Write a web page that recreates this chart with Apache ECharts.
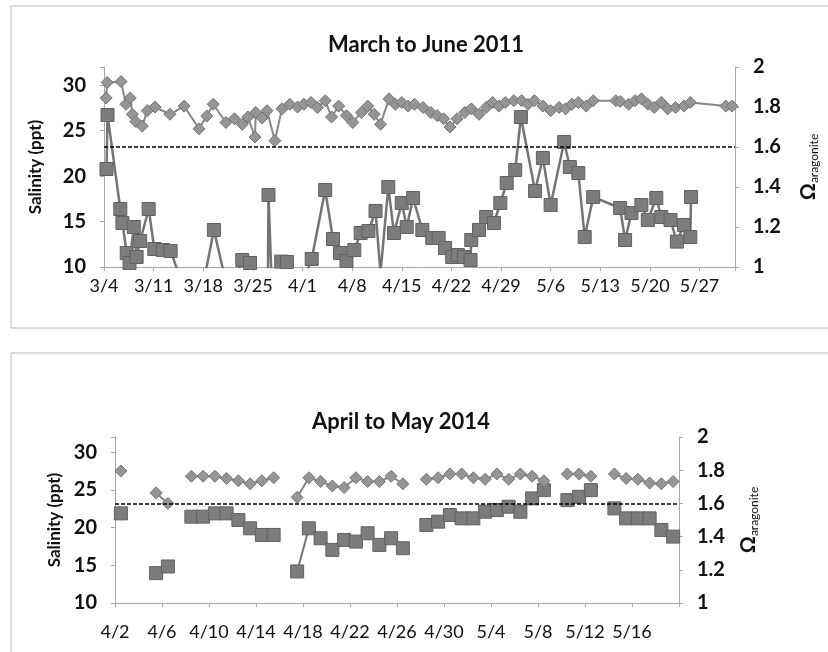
<!DOCTYPE html>
<html>
<head>
<meta charset="utf-8">
<script src="https://cdn.jsdelivr.net/npm/echarts@6/dist/echarts.min.js"></script>
<style>
html,body{margin:0;padding:0;background:#fff;}
#c{width:828px;height:652px;}
</style>
</head>
<body>
<div id="c"></div>
<script>
// ---------- 2011 panel (x = days after 3/4) ----------
const ticks2011 = ['3/4','3/11','3/18','3/25','4/1','4/8','4/15','4/22','4/29','5/6','5/13','5/20','5/27'];
const sal2011Days = [0.3,0.45,2.4,3.1,3.7,4.0,4.5,5.4,6.1,7.2,9.3,11.3,13.4,14.5,15.4,17.2,18.4,19.5,20.3,21.3,21.4,22.3,23.0,24.1,25.1,26.2,27.3,28.2,29.2,30.1,31.2,32.1,33.1,34.2,35.1,36.3,37.2,38.1,39.0,40.2,41.1,42.0,42.9,43.8,45.0,46.1,47.0,47.9,48.8,49.8,50.9,51.8,52.9,53.9,54.8,55.7,56.6,57.8,58.9,59.8,60.7,61.9,63.0,64.2,65.1,66.0,66.9,68.0,69.0,72.2,72.8,74.0,74.9,75.8,76.7,77.6,78.6,79.5,80.6,81.8,82.7,87.7,88.6];
const sal2011 = [28.6,30.3,30.4,27.9,28.6,26.8,26.0,25.5,27.2,27.6,26.8,27.7,25.2,26.6,27.9,25.9,26.3,25.7,26.5,24.3,27.0,26.4,27.2,23.9,27.4,27.9,27.6,27.9,28.1,27.55,28.3,26.5,27.7,26.65,25.9,27.0,27.7,26.8,25.7,28.5,27.9,28.1,27.7,27.9,27.55,27.0,26.65,26.3,25.4,26.3,27.0,27.4,26.8,27.55,28.1,27.7,28.1,28.3,28.3,27.9,28.3,27.7,27.2,27.55,27.4,27.9,28.1,27.7,28.3,28.3,28.2,27.9,28.3,28.5,27.9,27.55,28.1,27.4,27.55,27.7,28.1,27.7,27.7];
const omega2011Days = [0.35,0.5,2.3,2.6,3.2,3.6,4.2,4.6,5.1,6.3,7.1,8.3,9.4,10.6,11.8,13.0,14.2,15.5,16.9,18.2,19.5,20.6,21.8,23.1,23.2,23.6,25.0,25.8,26.9,28.1,29.3,31.2,32.3,33.3,34.2,35.3,36.2,37.3,38.3,39.0,40.1,40.9,42.0,42.7,43.6,44.9,46.3,47.2,48.1,49.1,49.9,50.8,51.7,51.8,52.9,53.9,55.0,55.9,56.8,58.0,58.8,60.8,61.9,63.0,64.9,65.7,66.9,67.8,69.0,72.8,73.5,74.4,75.8,76.7,77.9,78.6,79.9,80.8,81.8,82.7,82.8];
const omega2011 = [1.49,1.76,1.29,1.22,1.07,1.02,1.20,1.05,1.13,1.29,1.09,1.085,1.08,0.96,0.85,0.88,0.95,1.185,0.97,0.9,1.035,1.02,0.9,0.85,1.36,0.97,1.027,1.025,0.9,0.93,1.04,1.385,1.14,1.07,1.03,1.085,1.17,1.18,1.28,0.97,1.40,1.17,1.32,1.20,1.345,1.185,1.145,1.145,1.095,1.05,1.06,1.05,1.035,1.135,1.185,1.25,1.22,1.32,1.42,1.485,1.75,1.38,1.545,1.31,1.625,1.50,1.47,1.15,1.35,1.295,1.135,1.27,1.31,1.235,1.345,1.25,1.235,1.127,1.21,1.15,1.35];

// ---------- 2014 panel (x = days after 4/2, one value per day, null = no data) ----------
const ticks2014 = ['4/2','4/6','4/10','4/14','4/18','4/22','4/26','4/30','5/4','5/8','5/12','5/16'];
const sal2014 = [27.5,null,null,24.6,23.2,null,26.8,26.8,26.8,26.5,26.2,25.8,26.2,26.6,null,24.0,26.6,26.1,25.5,25.3,26.6,26.1,26.1,26.8,25.8,null,26.4,26.6,27.1,27.1,26.6,26.4,27.1,26.4,27.1,26.8,26.2,null,27.1,27.1,26.8,null,27.1,26.5,26.4,25.9,25.8,26.1];
const omega2014 = [1.54,null,null,1.18,1.22,null,1.52,1.52,1.54,1.54,1.50,1.45,1.41,1.41,null,1.19,1.45,1.39,1.32,1.38,1.37,1.42,1.35,1.39,1.33,null,1.47,1.49,1.53,1.51,1.51,1.55,1.56,1.58,1.55,1.63,1.68,null,1.62,1.64,1.68,null,1.57,1.51,1.51,1.51,1.44,1.40];

const omegaThreshold = 1.6;

const FONT = 'Lato';
const pairs = (xs, ys) => xs.map((x, i) => [x, ys[i]]);
const daily = ys => ys.map((y, i) => [i + 0.5, y == null ? '-' : y]);

const diamondStyle = {color: '#959595', borderColor: '#747474', borderWidth: 1};
const squareStyle = {color: '#7c7c7c', borderColor: '#626262', borderWidth: 1};

function axes(gridIndex, days, step, labels, labelMargin) {
  const x = {
    type: 'value', gridIndex, min: 0, max: days, interval: step,
    axisLine: {show: true, lineStyle: {color: '#a8a8a8', width: 1}},
    axisTick: {show: true, length: 4, lineStyle: {color: '#a8a8a8'}},
    splitLine: {show: false},
    axisLabel: {
      margin: labelMargin, fontFamily: FONT, fontSize: 18, color: '#111',
      formatter: v => { const k = Math.round(v / step); return Math.abs(v - k * step) < 1e-6 && labels[k] ? labels[k] : ''; }
    }
  };
  const yl = {
    type: 'value', gridIndex, position: 'left', min: 10, max: 32, interval: 5,
    name: 'Salinity (ppt)', nameLocation: 'middle', nameRotate: 90,
    nameGap: gridIndex === 0 ? 60 : 48,
    nameTextStyle: {fontFamily: FONT, fontSize: 17, fontWeight: 'bold', color: '#111'},
    axisLine: {show: true, lineStyle: {color: '#a8a8a8'}},
    axisTick: {show: true, length: 4, lineStyle: {color: '#a8a8a8'}},
    splitLine: {show: false},
    axisLabel: {margin: 18, fontFamily: FONT, fontSize: 20, fontWeight: 'bold', color: '#111',
      formatter: v => v > 30 ? '' : String(v)}
  };
  const yr = {
    type: 'value', gridIndex, position: 'right', min: 1, max: 2, interval: 0.2,
    name: '{o|Ω}{s|aragonite}', nameLocation: 'middle', nameRotate: 90,
    nameGap: gridIndex === 0 ? 61 : 57,
    nameTextStyle: {rich: {
      o: {fontFamily: FONT, fontSize: 21, fontWeight: 'bold', color: '#111', lineHeight: 24},
      s: {fontFamily: FONT, fontSize: 12, color: '#111', verticalAlign: 'bottom', lineHeight: 12}
    }},
    axisLine: {show: true, lineStyle: {color: '#a8a8a8'}},
    axisTick: {show: true, length: 4, lineStyle: {color: '#a8a8a8'}},
    splitLine: {show: false},
    axisLabel: {margin: 18, fontFamily: FONT, fontSize: 20, fontWeight: 'bold', color: '#111',
      formatter: v => String(Math.round(v * 10) / 10)}
  };
  return {x, yl, yr};
}

const a1 = axes(0, 89, 7, ticks2011, 10);
const a2 = axes(1, 48, 4, ticks2014, 20);

function thresholdLine() {
  return {
    silent: true, symbol: 'none', label: {show: false},
    lineStyle: {color: '#000', type: [4, 2], width: 1.5},
    data: [{yAxis: omegaThreshold}]
  };
}

const option = {
  animation: false,
  backgroundColor: '#fff',
  title: [
    {text: 'March to June 2011', left: 421, top: 29, textAlign: 'center',
     textStyle: {fontFamily: FONT, fontSize: 22, fontWeight: 'bold', color: '#111'}},
    {text: 'April to May 2014', left: 396, top: 406, textAlign: 'center',
     textStyle: {fontFamily: FONT, fontSize: 22, fontWeight: 'bold', color: '#111'}}
  ],
  graphic: [
    {type: 'rect', shape: {x: 11, y: 6, width: 830, height: 322}, style: {fill: 'none', stroke: '#b8b8b8', lineWidth: 1}, z: -1},
    {type: 'rect', shape: {x: 11, y: 353, width: 830, height: 320}, style: {fill: 'none', stroke: '#b8b8b8', lineWidth: 1}, z: -1}
  ],
  grid: [
    {left: 104, right: 75, top: 67, height: 200},
    {left: 115, right: 149, top: 437, height: 166}
  ],
  xAxis: [a1.x, a2.x],
  yAxis: [a1.yl, a1.yr, a2.yl, a2.yr],
  series: [
    {type: 'line', xAxisIndex: 0, yAxisIndex: 0, data: pairs(sal2011Days, sal2011),
     symbol: 'diamond', symbolSize: 12, itemStyle: diamondStyle,
     lineStyle: {color: '#888', width: 2}, z: 3},
    {type: 'line', xAxisIndex: 0, yAxisIndex: 1, data: pairs(omega2011Days, omega2011),
     symbol: 'rect', symbolSize: 13, itemStyle: squareStyle,
     lineStyle: {color: '#747474', width: 2.5}, z: 2, markLine: thresholdLine()},
    {type: 'line', xAxisIndex: 1, yAxisIndex: 2, data: daily(sal2014),
     symbol: 'diamond', symbolSize: 12, itemStyle: diamondStyle, connectNulls: false,
     lineStyle: {color: '#888', width: 2}, z: 3},
    {type: 'line', xAxisIndex: 1, yAxisIndex: 3, data: daily(omega2014),
     symbol: 'rect', symbolSize: 13, itemStyle: squareStyle, connectNulls: false,
     lineStyle: {color: '#747474', width: 2}, z: 2, markLine: thresholdLine()}
  ]
};

const chart = echarts.init(document.getElementById('c'), null, {renderer: 'canvas'});
chart.setOption(option);
</script>
</body>
</html>
